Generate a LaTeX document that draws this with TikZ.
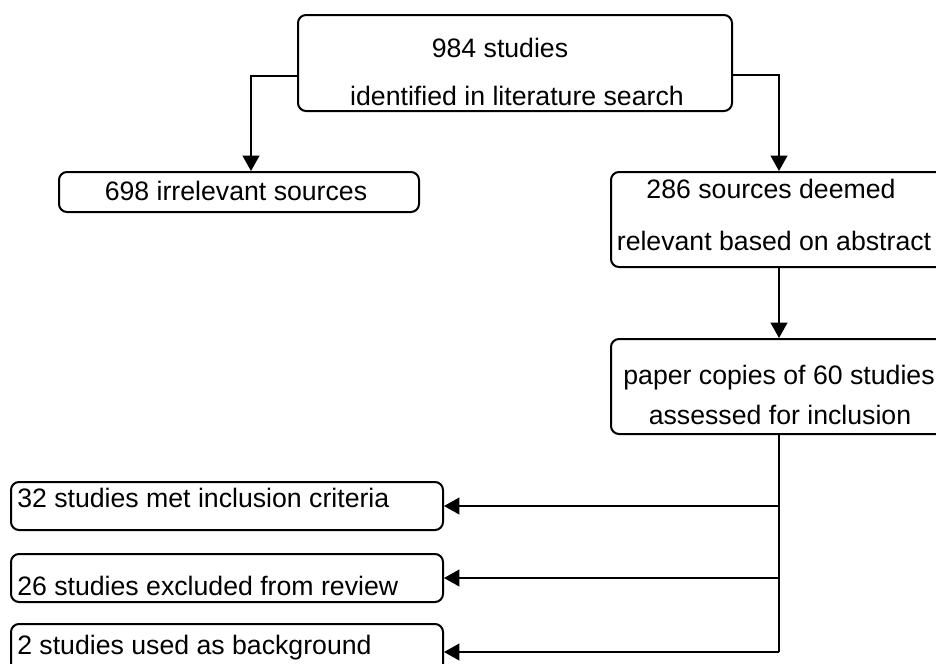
\documentclass[tikz,border=0pt]{standalone}
\usepackage{fontspec}
\setmainfont{Liberation Sans}
\usetikzlibrary{arrows.meta}

\begin{document}
\begin{tikzpicture}[x=0.75pt, y=-0.75pt,
      box/.style={rectangle, draw=black, line width=1.5pt, rounded corners=6pt, inner sep=0pt},
      txt/.style={inner sep=0pt, font=\fontsize{20}{24}\selectfont},
      arr/.style={line width=1.5pt, -{Triangle[width=12.5pt,length=11.5pt]}},
      ]
      \useasboundingbox (0,0) rectangle (936,664);
      \clip (0,0) rectangle (936,664);

      \node[box, minimum width=325.5pt, minimum height=72pt] (src) at (515,63) {};
      \node[box, minimum width=270pt, minimum height=30pt] (irr) at (239,192) {};
      \node[box, minimum width=252pt, minimum height=71.25pt] (rel) at (779,219.5) {};
      \node[box, minimum width=252pt, minimum height=71.25pt] (paper) at (779,386.5) {};
      \node[box, minimum width=324pt, minimum height=36pt] (met) at (227,506) {};
      \node[box, minimum width=324pt, minimum height=36pt] (excl) at (227,578) {};
      \node[box, minimum width=324pt, minimum height=42pt] (bg) at (227,652) {};

      \node[txt, anchor=base] (srcA) at (500,57) {984 studies};
      \node[txt, anchor=base] (srcB) at (517,105) {identified in literature search};
      \node[txt, anchor=base] (irrA) at (236,200) {698 irrelevant sources};
      \node[txt, anchor=base] (relA) at (771,198) {286 sources deemed};
      \node[txt, anchor=base] (relB) at (774,250) {relevant based on abstract};
      \node[txt, anchor=base] (paperA) at (779,384) {paper copies of 60 studies};
      \node[txt, anchor=base] (paperB) at (780,424) {assessed for inclusion};
      \node[txt, anchor=base west] (metA) at (17,507) {32 studies met inclusion criteria};
      \node[txt, anchor=base west] (exclA) at (17,595) {26 studies excluded from review};
      \node[txt, anchor=base west] (bgA) at (17,654) {2 studies used as background};

      \draw[arr] ([yshift=-9.75pt]src.west) -| ([xshift=9pt]irr.north);
      \draw[arr] ([yshift=-9pt]src.east) -| (rel.north);
      \draw[arr] (rel.south) -- (paper.north);
      \draw[line width=1.5pt] (paper.south) -- (paper.south |- bg.east);
      \draw[arr] (paper.south |- met.east) -- (met.east);
      \draw[arr] (paper.south |- excl.east) -- (excl.east);
      \draw[arr] (paper.south |- bg.east) -- (bg.east);
    \end{tikzpicture}
\end{document}
